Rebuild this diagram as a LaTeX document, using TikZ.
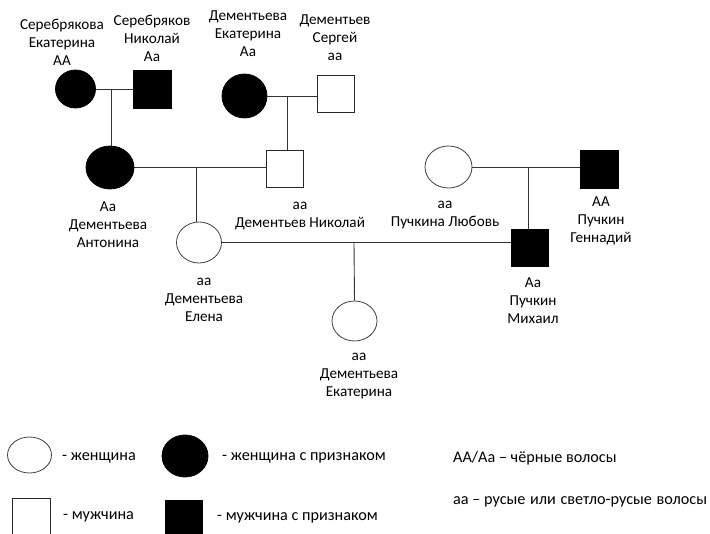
\documentclass[tikz,border=0pt]{standalone}
\usepackage{fontspec}
\setmainfont{Carlito}
\usetikzlibrary{shapes.geometric,positioning,calc}

\begin{document}
\begin{tikzpicture}[x=1pt, y=-1pt,
  fem/.style={ellipse, draw=black!75, line width=0.8pt, inner sep=0pt,
              minimum width=46pt, minimum height=42pt},
  femtrait/.style={fem, fill=black, draw=black},
  male/.style={rectangle, draw=black!85, line width=0.8pt, inner sep=0pt,
               minimum size=37pt},
  maletrait/.style={male, fill=black, draw=black},
  who/.style={align=center, inner sep=0pt,
              font=\fontsize{15.2}{18}\selectfont},
  key/.style={anchor=west, inner sep=0pt,
              font=\fontsize{16.2}{18}\selectfont},
  tie/.style={draw=black!80, line width=0.9pt},
]
  \useasboundingbox (0,0) rectangle (710,534);

  % Generation I
  \node[femtrait, minimum width=40pt, minimum height=38pt] (sek) at (75.5,89) {};
  \node[maletrait, minimum size=38pt] (snk) at (152.5,89) {};
  \node[femtrait, minimum width=45pt, minimum height=44pt] (dek) at (244.5,96) {};
  \node[male] (dsg) at (335.5,94) {};

  \node[who] (sekl) at (62,42) {Серебрякова\\Екатерина\\АА};
  \node[who] (snkl) at (152,38) {Серебряков\\Николай\\Аа};
  \node[who] (dekl) at (248,34) {Дементьева\\Екатерина\\Аа};
  \node[who] (dsgl) at (335,38) {Дементьев\\Сергей\\аа};

  % Generation II
  \node[femtrait, minimum width=48pt, minimum height=43pt] (ant) at (110,167.5) {};
  \node[male] (nik) at (284.5,169) {};
  \node[fem, minimum width=47pt, minimum height=42pt] (lub) at (448.5,167) {};
  \node[maletrait, minimum size=38pt] (gen) at (599,169.5) {};

  \node[who] (antl) at (108,225) {Аа\\Дементьева\\Антонина};
  \node[who] (nikl) at (300,215.5) {аа\\Дементьев Николай};
  \node[who] (lubl) at (445,215.5) {аа\\Пучкина Любовь};
  \node[who] (genl) at (601,221) {АА\\Пучкин\\Геннадий};

  % Generation III
  \node[fem, minimum width=45pt, minimum height=41pt] (ele) at (199,242.5) {};
  \node[maletrait] (mih) at (529.5,248) {};

  \node[who] (elel) at (204,300) {аа\\Дементьева\\Елена};
  \node[who] (mihl) at (533,301) {Аа\\Пучкин\\Михаил};

  % Generation IV
  \node[fem, minimum width=45pt, minimum height=40pt] (eka) at (354.5,321) {};
  \node[who] (ekal) at (359,376) {аа\\Дементьева\\Екатерина};

  % Marriages and descent
  \draw[tie] (sek) -- (snk);
  \coordinate (c1) at (111,89);
  \draw[tie] (c1) -- (c1 |- ant.north);

  \draw[tie] (dek.east) -- (dek.east -| dsg.west);
  \coordinate (c2) at (287,96);
  \draw[tie] (c2) -- (c2 |- nik.north);

  \draw[tie] (ant.east) -- (ant.east -| nik.west);
  \coordinate (c3) at (196,167.5);
  \draw[tie] (c3) -- (c3 |- ele.north);

  \draw[tie] (lub.east) -- (lub.east -| gen.west);
  \coordinate (c4) at (528,167);
  \draw[tie] (c4) -- (c4 |- mih.north);

  \draw[tie] (ele.east) -- (ele.east -| mih.west);
  \coordinate (c5) at (354,242.5);
  \draw[tie] (c5) -- (eka.north);

  % Legend
  \node[fem, minimum width=44pt, minimum height=36pt] (kfem) at (29.5,455) {};
  \node[key] (kfemt) at (62,458) {- женщина};
  \node[femtrait, minimum width=46pt, minimum height=42pt] (kfemtr) at (185,456) {};
  \node[key] (kfemtrt) at (222,458) {- женщина с признаком};
  \node[male, minimum size=38pt] (kmal) at (31,517) {};
  \node[key] (kmalt) at (63,517) {- мужчина};
  \node[maletrait] (kmaltr) at (183.5,518.5) {};
  \node[key] (kmaltrt) at (217,518) {- мужчина с признаком};

  \node[key] (kdom) at (453,458) {АА/Аа – чёрные волосы};
  \node[key] (krec) at (453,502) {аа – русые\hspace{1pt} или\hspace{1pt} светло-русые\hspace{1pt} волосы};

\end{tikzpicture}
\end{document}
